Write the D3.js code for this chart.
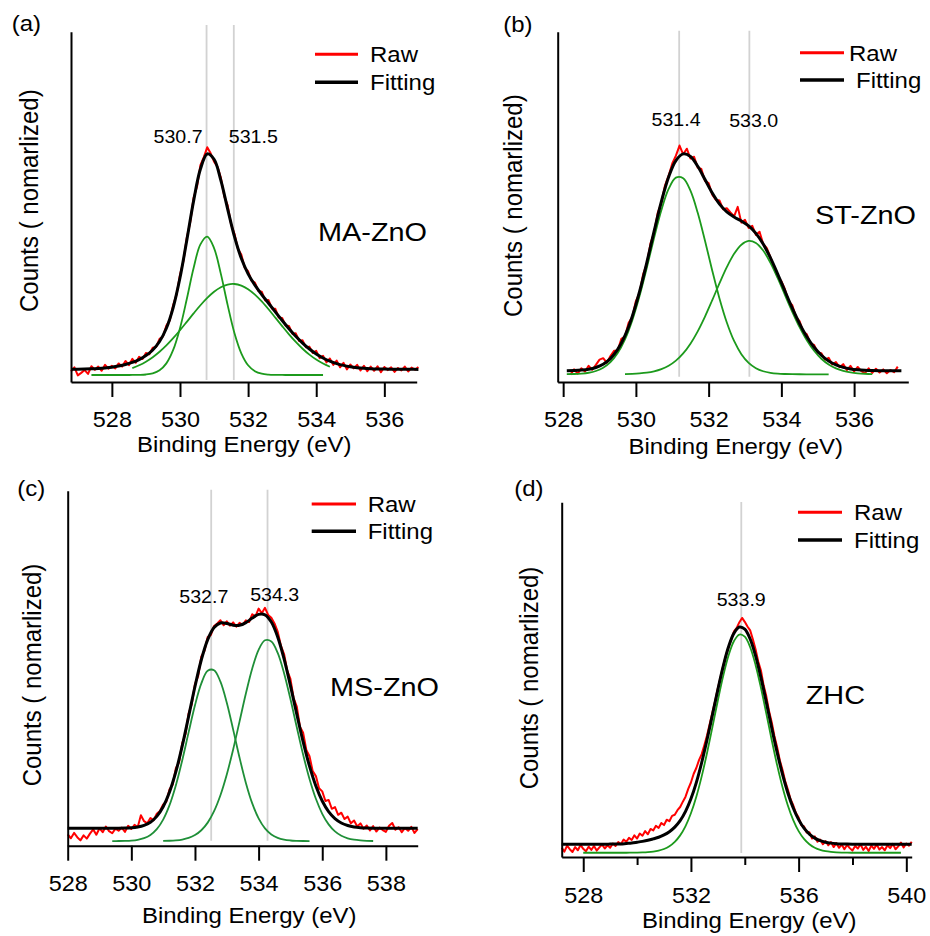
<!DOCTYPE html>
<html><head><meta charset="utf-8">
<script src="https://cdn.jsdelivr.net/npm/d3@7"></script>
<style>
body{margin:0;background:#fff;}
svg{display:block;}
text{font-family:"Liberation Sans",Arial,Helvetica,sans-serif;fill:#000;}
</style>
</head><body>
<svg id="chart" width="930" height="936"></svg>
<script>
// ---------------- DATA (energies in eV, intensities in % of axis height) ----------------
const xDomainA = [526.8, 536.95];
const xDomainB = [527.85, 537.49];
const xDomainC = [528.0, 539.0];
const xDomainD = [527.2, 540.2];

const xTicksA = [528, 530, 532, 534, 536];
const xTicksB = [528, 530, 532, 534, 536];
const xTicksC = [528, 530, 532, 534, 536, 538];
const xTicksD = [528, 532, 536, 540];
const xMinorTicksD = [530, 534, 538];

const peakLinesA = [530.78, 531.58];
const peakLinesB = [531.19, 533.12];
const peakLinesC = [532.51, 534.28];
const peakLinesD = [533.87];

const peakLabelsA = ["530.7", "531.5"];
const peakLabelsB = ["531.4", "533.0"];
const peakLabelsC = ["532.7", "534.3"];
const peakLabelsD = ["533.9"];

const sampleNames = ["MA-ZnO", "ST-ZnO", "MS-ZnO", "ZHC"];
const panelTags = ["(a)", "(b)", "(c)", "(d)"];
const legendNames = ["Raw", "Fitting"];
const xTitle = "Binding Energy (eV)";
const yTitle = "Counts ( nomarlized)";

// Panel (a)
const rawA = {x0: 526.8, dx: 0.1, y: [3.0,4.2,1.9,2.6,3.4,2.3,4.5,3.5,4.4,3.2, 4.9,3.8,4.6,3.9,5.3,4.4,6.0,4.8,6.6,5.5, 7.2,6.6,8.3,7.9,9.8,10.0,12.3,13.0,16.1,17.6, 22.0,25.0,30.6,34.5,41.2,45.6,52.6,55.8,61.9,64.2, 67.0,65.3,62.9,61.5,58.3,53.0,50.4,45.0,42.3,38.0, 36.4,32.6,31.6,28.9,28.4,26.0,25.8,23.3,23.4,21.0, 20.9,18.4,18.3,16.1,16.0,13.8,13.9,11.7,11.9,9.9, 10.1,8.3,8.9,6.8,7.5,5.6,6.7,4.9,6.1,4.2, 5.5,3.6,5.0,3.9,4.9,3.3,4.6,3.1,4.4,3.2, 4.5,2.8,4.3,3.4,4.2,2.9,4.0,3.3,4.4,3.0, 4.1,3.5,4.3]};
const fitA = {x0: 526.8, dx: 0.2, y: [3.63,3.66,3.70,3.76,3.86,4.01,4.22,4.54,4.98,5.59, 6.41,7.54,9.15,11.55,15.35,21.25,29.74,40.45,51.71,60.80, 65.11,63.59,57.54,49.38,41.51,35.32,30.88,27.64,24.97,22.47, 20.0,17.56,15.22,13.05,11.10,9.41,8.0,6.86,5.95,5.26, 4.74,4.37,4.10,3.92,3.80,3.72,3.68,3.65,3.63,3.62, 3.61,3.60]};
const peakA1 = {x0: 527.4, dx: 0.2, y: [2.0,2.0,2.0,2.0,2.0,2.0,2.01,2.04,2.14,2.47, 3.33,5.31,9.15,15.37,23.69,32.53,39.29,41.5,38.22,30.87, 21.95,13.93,8.2,4.79,3.09,2.37,2.11,2.03,2.01,2.0, 2.0,2.0,2.0,2.0,2.0]};
const peakA2 = {x0: 528.6, dx: 0.2, y: [3.98,4.77,5.80,7.08,8.62,10.44,12.50,14.77,17.16,19.58, 21.91,24.01,25.77,27.07,27.83,27.98,27.52,26.49,24.95,23.0, 20.76,18.37,15.96,13.62,11.45,9.50,7.81,6.40,5.26,4.35]};

// Panel (b)
const rawB = {x0: 528.2, dx: 0.1, y: [2.1,3.6,2.4,3.9,3.0,4.6,3.5,4.9,6.4,6.8, 5.5,7.4,8.9,9.0,12.3,13.0,16.9,18.5,23.1,25.4, 30.8,33.7,39.5,42.6,48.3,51.1,56.1,58.9,62.4,64.6, 67.5,65.0,66.6,63.8,64.3,61.2,60.8,57.4,56.8,53.5, 52.0,51.8,49.3,49.6,48.4,47.3,50.0,45.5,46.3,44.0, 44.6,42.0,42.9,39.4,38.2,35.6,32.5,30.0,28.8,26.4, 23.0,21.9,18.6,17.4,14.4,13.6,11.0,10.6,8.4,8.2, 6.4,6.9,5.0,5.7,4.2,5.1,3.4,4.6,3.0,4.3, 3.1,2.5,3.9,2.6,3.8,2.7,3.6,2.5,3.4,2.8, 4.4]};
const fitB = {x0: 528.1, dx: 0.2, y: [3.23,3.28,3.40,3.64,4.15,5.07,6.69,9.30,13.24,18.72, 25.77,34.08,42.98,51.49,58.53,63.23,65.13,64.36,61.58,57.79, 53.95,50.79,48.57,47.10,45.95,44.55,42.44,39.39,35.43,30.81, 25.90,21.08,16.68,12.92,9.92,7.64,6.0,4.90,4.18,3.74, 3.49,3.35,3.27,3.23,3.21,3.20,3.20]};
const peakB1 = {x0: 528.1, dx: 0.2, y: [2.23,2.28,2.40,2.64,3.14,4.06,5.67,8.27,12.18,17.60, 24.53,32.63,41.15,49.04,55.11,58.34,58.17,54.62,48.31,40.31, 31.78,23.78,16.99,11.71,7.95,5.47,3.95,3.07,2.61,2.38, 2.28,2.23,2.21,2.2,2.2,2.2,2.2]};
const peakB2 = {x0: 529.7, dx: 0.2, y: [2.26,2.32,2.44,2.65,3.03,3.65,4.62,6.09,8.16,10.94, 14.47,18.68,23.37,28.21,32.78,36.59,39.2,40.28,39.69,37.52, 34.02,29.63,24.82,20.05,15.67,11.92,8.92,6.64,5.0,3.90, 3.18,2.74,2.49,2.35,2.27]};

// Panel (c)
const rawC = {x0: 528.0, dx: 0.1, y: [3.2,2.1,3.6,2.4,1.5,2.9,2.0,3.4,4.6,3.1, 4.9,3.8,5.4,4.1,3.5,4.8,4.2,5.1,3.9,5.6, 4.7,5.9,5.2,8.6,6.9,6.3,7.8,7.2,9.0,9.8, 11.6,12.4,15.9,17.2,21.8,23.5,28.9,31.4,37.3,39.9, 45.6,47.8,53.3,54.9,58.8,59.4,61.9,62.6,63.5,62.1, 63.2,62.0,62.9,61.7,62.8,62.3,63.5,63.0,65.2,64.6, 66.8,65.5,67.0,65.0,64.2,62.6,60.3,56.4,54.0,49.3, 47.0,41.6,39.2,33.5,31.8,27.0,25.2,21.0,19.6,16.2, 15.3,12.6,12.9,10.4,10.9,8.7,9.3,7.5,8.2,6.3, 7.1,5.4,6.3,4.8,5.7,4.3,5.5,4.0,5.1,4.4, 3.9,5.6,6.4,4.5,5.2,3.8,5.0,4.2,5.3,3.6, 4.7]};
const fitC = {x0: 528.0, dx: 0.2, y: [4.9,4.9,4.9,4.9,4.9,4.9,4.9,4.91,4.92,4.96, 5.05,5.27,5.73,6.63,8.26,10.99,15.11,20.85,28.11,36.40, 44.84,52.38,58.07,61.47,62.73,62.61,62.12,62.08,62.84,64.11, 65.16,65.03,63.01,58.80,52.61,45.08,37.02,29.24,22.40,16.81, 12.59,9.60,7.62,6.39,5.68,5.28,5.08,4.98,4.93,4.91, 4.9,4.9,4.9,4.9,4.9,4.9]};
const peakC1 = {x0: 529.4, dx: 0.2, y: [1.31,1.32,1.36,1.45,1.67,2.13,3.03,4.66,7.35,11.42, 17.04,24.07,31.91,39.55,45.73,49.27,49.44,46.21,40.25,32.70, 24.83,17.69,11.91,7.69,4.87,3.16,2.20,1.70,1.47,1.37, 1.32,1.31]};
const peakC2 = {x0: 531.0, dx: 0.2, y: [1.34,1.39,1.51,1.74,2.19,2.99,4.35,6.50,9.73,14.22, 20.06,27.12,34.95,42.85,49.90,55.17,57.86,57.55,54.30,48.61, 41.31,33.35,25.62,18.79,13.21,8.99,6.0,4.02,2.79,2.08, 1.68,1.48,1.38,1.33]};

// Panel (d)
const rawD = {x0: 527.2, dx: 0.1, y: [2.6,1.5,3.2,2.2,1.4,2.8,1.9,3.4,2.3,1.6, 2.9,2.0,3.1,1.8,2.7,3.5,2.4,3.3,2.6,3.8, 3.1,4.2,3.6,4.9,4.3,5.4,4.8,6.1,5.2,6.6, 6.0,7.3,6.4,7.9,7.5,8.8,8.2,9.6,9.0,10.5, 10.1,11.6,11.9,13.2,14.1,15.6,17.0,19.2,21.0,23.4, 25.1,27.3,29.0,31.6,34.3,37.6,40.8,44.0,47.6,50.7, 53.9,56.8,59.2,61.4,63.6,64.6,66.2,67.4,66.3,65.0, 63.9,61.4,58.6,55.1,52.6,48.4,45.3,41.2,38.0,34.1, 31.0,27.3,24.6,21.4,19.0,16.3,14.6,12.4,11.1,9.0, 8.6,6.9,7.0,5.2,5.8,4.3,4.9,3.6,4.5,3.3, 4.2,2.8,3.9,2.6,3.5,2.2,3.4,2.5,1.8,3.1, 2.4,3.6,2.0,2.9,1.7,3.2,2.3,3.5,2.1,2.8, 1.9,3.3,2.5,3.7,2.2,3.0,4.1,2.7,3.8,3.2, 4.3]};
const fitD = {x0: 527.2, dx: 0.2, y: [3.6,3.6,3.6,3.6,3.6,3.6,3.6,3.6,3.62,3.63, 3.65,3.68,3.81,3.93,4.16,4.41,4.72,5.12,5.56,6.23, 7.14,8.42,10.23,12.85,16.40,20.97,26.64,33.13,40.14,47.20, 53.82,59.32,63.12,64.83,64.25,61.46,56.75,50.62,43.65,36.45, 29.55,23.34,18.05,13.80,10.53,8.13,6.46,5.33,4.61,4.17, 3.91,3.76,3.68,3.64,3.62,3.61,3.6,3.6,3.6,3.6, 3.6,3.6,3.6,3.6,3.6,3.6]};
const peakD1 = {x0: 528.0, dx: 0.2, y: [1.2,1.2,1.2,1.2,1.2,1.2,1.2,1.2,1.2, 1.22,1.24,1.28,1.36,1.51,1.79,2.26,3.04,4.27,6.10, 8.73,12.33,16.99,22.73,29.40,36.70,44.12,51.07,56.87,60.90, 62.72,62.11,59.14,54.15,47.70,40.43,33.0,25.96,19.73,14.52, 10.40,7.30,5.09,3.58,2.60,1.99,1.63,1.43,1.31,1.25, 1.22, 1.2,1.2,1.2,1.2,1.2,1.2,1.2,1.2,1.2,1.2]};

// ---------------- LAYOUT ----------------
const SX = 1.09; // horizontal glyph stretch of the original figure
const panels = [
  {tag: panelTags[0], sample: sampleNames[0], dom: xDomainA, ticks: xTicksA, minor: [],
   raw: rawA, fit: fitA, peaks: [peakA1, peakA2], lines: peakLinesA, labels: peakLabelsA, green: "#1c9a1c",
   left: 71, right: 416.7, top: 31.7, bottom: 382, grayTop: 25, grayBottom: 380,
   labelPos: [[178, 143], [253.3, 142.7]], tagPos: [11.7, 31], samplePos: [318, 241],
   leg: {x1: 315, x2: 358, y1: 54.3, y2: 82.3, tx1: 370, tx2: 370, ty1: 62.3, ty2: 90},
   yTitlePos: [38, 200.7], xTitlePos: [244.2, 452.3], tickBase: 427.3},
  {tag: panelTags[1], sample: sampleNames[1], dom: xDomainB, ticks: xTicksB, minor: [],
   raw: rawB, fit: fitB, peaks: [peakB1, peakB2], lines: peakLinesB, labels: peakLabelsB, green: "#1c9a1c",
   left: 557.7, right: 908.3, top: 31.7, bottom: 382, grayTop: 30.7, grayBottom: 376.7,
   labelPos: [[676, 125.7], [753.7, 126.7]], tagPos: [503.3, 31.7], samplePos: [815, 224],
   leg: {x1: 800, x2: 844, y1: 52.7, y2: 80, tx1: 849, tx2: 856, ty1: 61, ty2: 88},
   yTitlePos: [521.7, 205.7], xTitlePos: [735.8, 454], tickBase: 426.7},
  {tag: panelTags[2], sample: sampleNames[2], dom: xDomainC, ticks: xTicksC, minor: [],
   raw: rawC, fit: fitC, peaks: [peakC1, peakC2], lines: peakLinesC, labels: peakLabelsC, green: "#1f8f38",
   left: 67.7, right: 417.7, top: 490.7, bottom: 845.7, grayTop: 489.7, grayBottom: 840.7,
   labelPos: [[203.8, 603], [274.7, 601.3]], tagPos: [17.3, 496.3], samplePos: [330, 696.3],
   leg: {x1: 311.7, x2: 356, y1: 504, y2: 531.3, tx1: 367.7, tx2: 367.7, ty1: 512, ty2: 539.3},
   yTitlePos: [40.7, 675], xTitlePos: [249.2, 923], tickBase: 891.3},
  {tag: panelTags[3], sample: sampleNames[3], dom: xDomainD, ticks: xTicksD, minor: xMinorTicksD,
   raw: rawD, fit: fitD, peaks: [peakD1], lines: peakLinesD, labels: peakLabelsD, green: "#1c9a1c",
   left: 561.7, right: 911.7, top: 502.3, bottom: 857, grayTop: 502, grayBottom: 853,
   labelPos: [[741.2, 605.7]], tagPos: [514.3, 496.3], samplePos: [805.7, 703.7],
   leg: {x1: 798, x2: 842, y1: 512.3, y2: 540, tx1: 854, tx2: 854, ty1: 520.3, ty2: 548},
   yTitlePos: [538.3, 678], xTitlePos: [749.2, 928], tickBase: 903}
];

const svg = d3.select("#chart");

function addText(g, str, x, y, size, anchor, rotate) {
  return g.append("text")
    .attr("transform", `translate(${x},${y}) scale(${SX},1)` + (rotate ? " rotate(-90)" : ""))
    .attr("text-anchor", anchor || "start")
    .style("font-size", size + "px")
    .text(str);
}

panels.forEach(p => {
  const g = svg.append("g");
  const x = d3.scaleLinear().domain(p.dom).range([p.left, p.right]);
  const y = d3.scaleLinear().domain([0, 100]).range([p.bottom, p.top]);

  // reference lines
  g.selectAll("line.ref").data(p.lines).join("line")
    .attr("x1", d => x(d)).attr("x2", d => x(d))
    .attr("y1", p.grayTop).attr("y2", p.grayBottom)
    .attr("stroke", "#d2d2d2").attr("stroke-width", 1.8);

  const seriesLine = (s, curve) => d3.line()
    .x((d, i) => x(s.x0 + i * s.dx))
    .y(d => y(d))
    .curve(curve)(s.y);

  // raw
  g.append("path").attr("d", seriesLine(p.raw, d3.curveLinear))
    .attr("fill", "none").attr("stroke", "#ff0000").attr("stroke-width", 2)
    .attr("stroke-linejoin", "round");
  // components
  p.peaks.forEach(s => {
    g.append("path").attr("d", seriesLine(s, d3.curveCatmullRom.alpha(0.5)))
      .attr("fill", "none").attr("stroke", p.green).attr("stroke-width", 1.8);
  });
  // fit
  g.append("path").attr("d", seriesLine(p.fit, d3.curveCatmullRom.alpha(0.5)))
    .attr("fill", "none").attr("stroke", "#000").attr("stroke-width", 3)
    .attr("stroke-linejoin", "round");

  // axes
  const xa = g.append("g").attr("transform", `translate(0,${p.bottom})`)
    .call(d3.axisBottom(x).tickValues(p.ticks).tickSize(15).tickSizeOuter(0).tickFormat(d3.format("d")));
  xa.select(".domain").attr("stroke-width", 2);
  xa.selectAll(".tick line").attr("stroke-width", 2);
  xa.selectAll(".tick text")
    .attr("y", p.tickBase - p.bottom).attr("dy", 0)
    .attr("transform", `scale(${SX},1)`)
    .style("font-size", "21.5px").attr("font-family", null).attr("fill", "#000");
  xa.attr("font-family", null).attr("font-size", null);
  if (p.minor.length) {
    const xm = g.append("g").attr("transform", `translate(0,${p.bottom})`)
      .call(d3.axisBottom(x).tickValues(p.minor).tickSize(8).tickSizeOuter(0).tickFormat(""));
    xm.select(".domain").remove();
    xm.selectAll(".tick line").attr("stroke-width", 2);
  }
  const ya = g.append("g").attr("transform", `translate(${p.left},0)`)
    .call(d3.axisLeft(y).tickValues([]).tickSizeOuter(0));
  ya.select(".domain").attr("stroke-width", 2);

  // titles
  addText(g, xTitle, p.xTitlePos[0], p.xTitlePos[1], 22, "middle");
  addText(g, yTitle, p.yTitlePos[0], p.yTitlePos[1], 24, "middle", true);
  addText(g, p.tag, p.tagPos[0], p.tagPos[1], 22, "start");
  addText(g, p.sample, p.samplePos[0], p.samplePos[1], 26.5, "start");
  p.labels.forEach((t, i) => addText(g, t, p.labelPos[i][0], p.labelPos[i][1], 18, "middle"));

  // legend
  const L = p.leg;
  g.append("line").attr("x1", L.x1).attr("x2", L.x2).attr("y1", L.y1).attr("y2", L.y1)
    .attr("stroke", "#ff0000").attr("stroke-width", 3);
  g.append("line").attr("x1", L.x1).attr("x2", L.x2).attr("y1", L.y2).attr("y2", L.y2)
    .attr("stroke", "#000").attr("stroke-width", 3.5);
  addText(g, legendNames[0], L.tx1, L.ty1, 22, "start");
  addText(g, legendNames[1], L.tx2, L.ty2, 22, "start");
});
</script>
</body></html>
